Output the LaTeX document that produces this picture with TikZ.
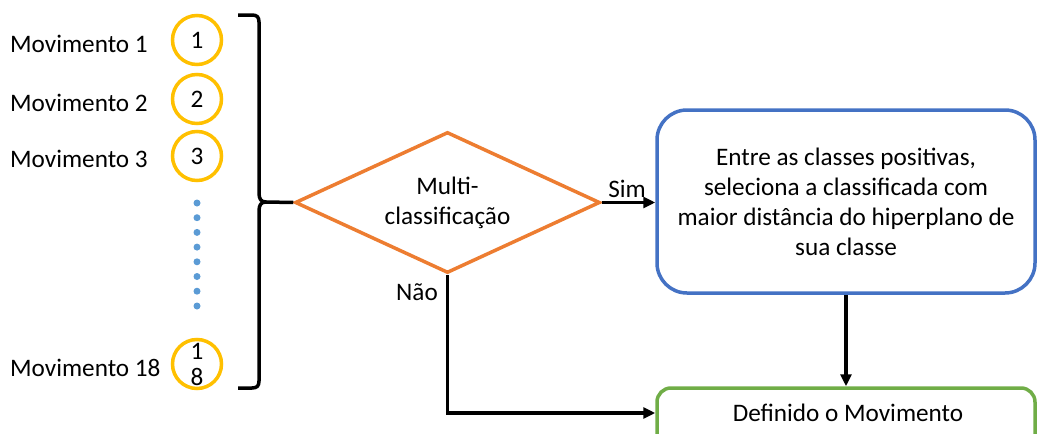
\documentclass[tikz,border=0pt]{standalone}
\usepackage{fontspec}
\setmainfont{Carlito}
\usetikzlibrary{shapes.geometric,arrows.meta}
\definecolor{corange}{HTML}{ED7D31}
\definecolor{cyellow}{HTML}{FFC000}
\definecolor{cblue}{HTML}{4472C4}
\definecolor{cgreen}{HTML}{70AD47}
\definecolor{cdot}{HTML}{5B9BD5}
\begin{document}
\begin{tikzpicture}[x=1pt,y=-1pt,
  txt/.style={font=\fontsize{25.2}{30}\selectfont, inner sep=0pt},
  mov/.style={txt, anchor=base west},
  num/.style={circle, draw=cyellow, line width=3.5pt, minimum size=49pt, inner sep=0pt, font=\fontsize{25.2}{28}\selectfont, align=center},
  dotc/.style={circle, fill=cdot, minimum size=7pt, inner sep=0pt},
  conn/.style={line width=3.5pt, draw=black},
  arr/.style={conn, -{Triangle[length=12pt,width=11pt]}},
  decis/.style={diamond, draw=corange, line width=3.5pt, minimum width=305pt, minimum height=141pt, aspect=2.16, inner sep=0pt, align=center, txt},
  procbox/.style={rectangle, rounded corners=30pt, draw=cblue, line width=3.5pt, minimum width=378pt, minimum height=183pt, align=center, txt},
  endbox/.style={rectangle, rounded corners=14pt, draw=cgreen, line width=3.5pt, minimum width=378pt, minimum height=80pt, txt}
]
\useasboundingbox (0,0) rectangle (1037,434);
\clip (0,0) rectangle (1037,434);

% left labels
\node[mov] (m1) at (10,52) {Movimento 1};
\node[mov] (m2) at (10,111) {Movimento 2};
\node[mov] (m3) at (10,167) {Movimento 3};
\node[mov] (m18) at (10,376) {Movimento 18};

% circles
\node[num] (c1) at (197,40) {1};
\node[num] (c2) at (197,99) {2};
\node[num] (c3) at (197,156) {3};
\node[num] (c18) at (197,364) {1\\[-2pt]8};

% dots
\foreach \i/\yy in {1/203,2/217.7,3/232.4,4/247.1,5/261.8,6/276.5,7/291.2,8/306} {
  \node[dotc] (d\i) at (197,\yy) {};
}

% bracket
\draw[conn, line join=round] (238,15) -- (252,15) .. controls (257,15) and (259,17) .. (259,22)
  -- (259,193) .. controls (259,199) and (261,202) .. (266,202)
  .. controls (261,202) and (259,205) .. (259,211)
  -- (259,381) .. controls (259,386) and (257,388) .. (252,388) -- (238,388);
\coordinate (brtip) at (266,202);

% decision
\node[decis] (dec) at (447.5,202.5) {Multi-\\classificação};

% process box
\node[procbox] (proc) at (846,201.5) {Entre as classes positivas,\\seleciona a classificada com\\maior distância do hiperplano de\\sua classe};

% end box
\node[endbox] (fin) at (846,428) {};
\node[txt] (fintxt) at (848,413) {Definido o Movimento};

% connectors
\draw[conn] (brtip) -- (dec.west);
\draw[arr] (dec.east) -- (proc.west |- dec.east);
\node[txt, anchor=base] (sim) at (627,197) {Sim};
\draw[arr] (proc.south) -- (proc.south |- fin.north);
\coordinate (corner) at (dec.south |- fintxt);
\draw[arr] (dec.south) -- (corner) -- (fin.west |- fintxt);
\node[txt, anchor=base east] (nao) at (438,300) {Não};
\end{tikzpicture}
\end{document}
